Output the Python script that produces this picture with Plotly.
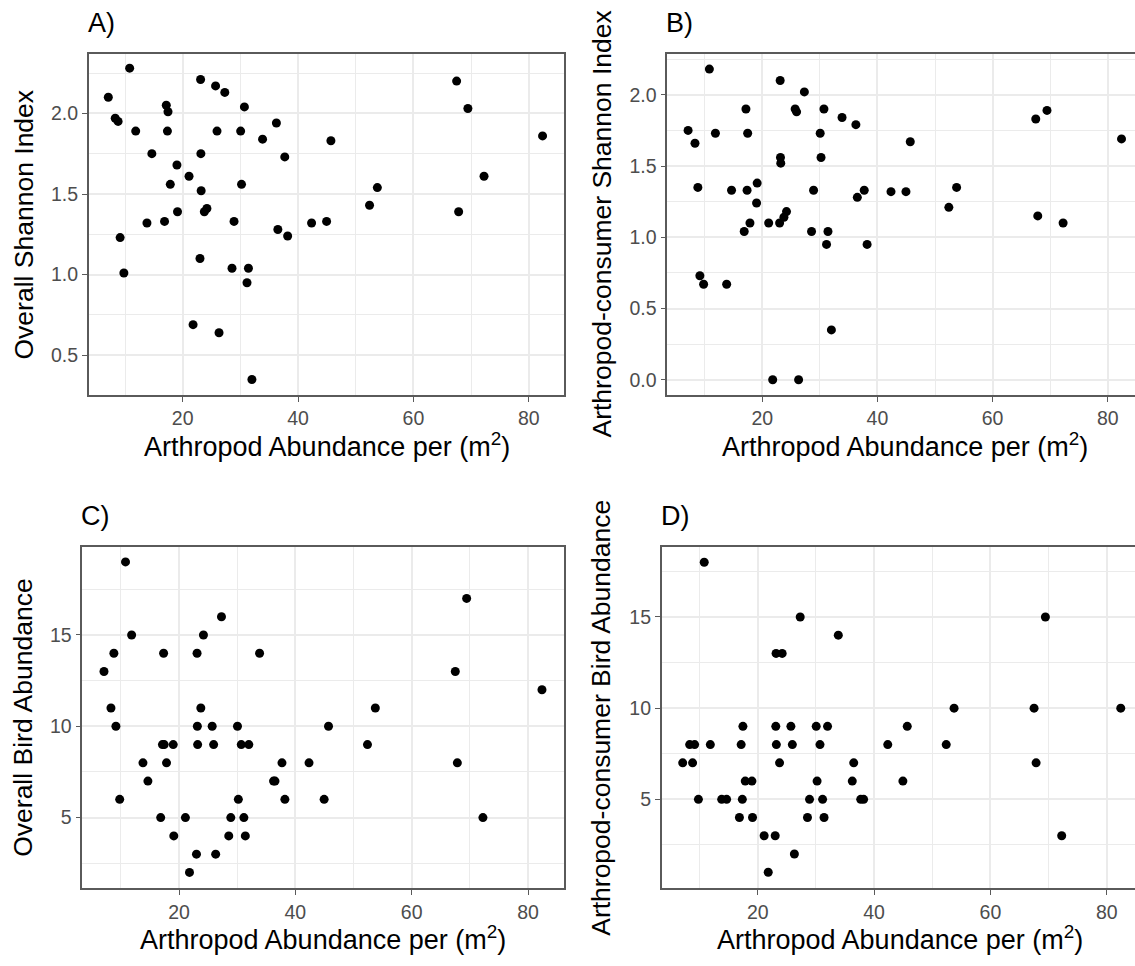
import plotly.graph_objects as go

W, H = 1135, 966

# Arthropod abundance per m2 at each site (shared by all four panels)
arthropod_abundance = [
    7.1, 8.3, 8.8, 9.15, 9.8, 10.8, 11.85,
    13.8, 14.65,
    16.85, 17.15, 17.35, 17.45, 17.85, 19.0, 19.1,
    21.1, 21.8,
    23.0, 23.1, 23.15, 23.2, 23.75, 24.2,
    25.7, 25.95, 26.3, 27.3,
    28.55, 28.9, 30.05, 30.2, 30.7, 31.15, 31.4, 32.0,
    33.85, 36.25, 36.5, 37.7, 38.2,
    42.35, 44.95, 45.7,
    52.4, 53.75,
    67.5, 67.85, 69.45,
    72.25, 82.4,
]

overall_shannon = [
    2.10, 1.97, 1.95, 1.23, 1.01, 2.28, 1.89,
    1.32, 1.75,
    1.33, 2.05, 1.89, 2.01, 1.56, 1.68, 1.39,
    1.61, 0.69,
    1.10, 2.21, 1.75, 1.52, 1.39, 1.41,
    2.17, 1.89, 0.64, 2.13,
    1.04, 1.33, 1.89, 1.56, 2.04, 0.95, 1.04, 0.35,
    1.84, 1.94, 1.28, 1.73, 1.24,
    1.32, 1.33, 1.83,
    1.43, 1.54,
    2.20, 1.39, 2.03,
    1.61, 1.86,
]

consumer_shannon = [
    1.75, 1.66, 1.35, 0.73, 0.67, 2.18, 1.73,
    0.67, 1.33,
    1.04, 1.90, 1.33, 1.73, 1.10, 1.24, 1.38,
    1.10, 0.00,
    1.10, 2.10, 1.56, 1.52, 1.14, 1.18,
    1.90, 1.88, 0.00, 2.02,
    1.04, 1.33, 1.73, 1.56, 1.90, 0.95, 1.04, 0.35,
    1.84, 1.79, 1.28, 1.33, 0.95,
    1.32, 1.32, 1.67,
    1.21, 1.35,
    1.83, 1.15, 1.89,
    1.10, 1.69,
]

overall_birds = [
    13, 11, 14, 10, 6, 19, 15,
    8, 7,
    5, 9, 14, 9, 8, 9, 4,
    5, 2,
    3, 14, 10, 9, 11, 15,
    10, 9, 3, 16,
    4, 5, 10, 6, 9, 5, 4, 9,
    14, 7, 7, 8, 6,
    8, 6, 10,
    9, 11,
    13, 8, 17,
    5, 12,
]

consumer_birds = [
    7, 8, 7, 8, 5, 18, 8,
    5, 5,
    4, 8, 5, 9, 6, 6, 4,
    3, 1,
    3, 9, 13, 8, 7, 13,
    9, 8, 2, 15,
    4, 5, 9, 6, 8, 5, 4, 9,
    14, 6, 7, 5, 5,
    8, 6, 9,
    8, 10,
    10, 7, 15,
    3, 10,
]

panel_tags = ["A)", "B)", "C)", "D)"]
y_titles = [
    "Overall Shannon Index",
    "Arthropod-consumer Shannon Index",
    "Overall Bird Abundance",
    "Arthropod-consumer Bird Abundance",
]
x_title = "Arthropod Abundance per (m<sup>2</sup>)"

FONT = "Liberation Sans, Arial, sans-serif"
GRID = "#EBEBEB"
FRAME = "#5A5A5A"
TICKTXT = "#4D4D4D"


def px_x(p):
    return p / W


def px_y(p):
    return 1 - p / H


# panel boxes in pixels: left, right, top, bottom
boxes = [
    (88.7, 564.3, 54.0, 395.0),
    (667.3, 1135.0, 54.0, 395.0),
    (82.3, 564.3, 547.3, 888.3),
    (661.7, 1135.0, 547.3, 888.3),
]
x_ranges = [[3.70, 86.17], [3.49, 84.74], [3.37, 86.24], [3.49, 84.85]]
y_ranges = [[0.254, 2.368], [-0.107, 2.286], [1.13, 19.80], [0.12, 18.82]]
y_major = [0.5, 0.5, 5, 5]
y_minor = [(0.25, 0.5), (0.25, 0.5), (2.5, 5), (2.5, 5)]
y_series = [overall_shannon, consumer_shannon, overall_birds, consumer_birds]
right_cut = [False, True, False, True]

fig = go.Figure()
layout = dict(
    width=W, height=H,
    margin=dict(l=0, r=0, t=0, b=0),
    paper_bgcolor="white", plot_bgcolor="white",
    showlegend=False,
    font=dict(family=FONT, color="black"),
)

annotations = []
for i in range(4):
    n = "" if i == 0 else str(i + 1)
    xa, ya = "x" + n, "y" + n
    l, r, t, b = boxes[i]
    fig.add_trace(go.Scatter(
        x=arthropod_abundance, y=y_series[i], mode="markers",
        marker=dict(color="black", size=9, line=dict(width=0)),
        xaxis=xa, yaxis=ya, cliponaxis=False,
    ))
    layout["xaxis" + n] = dict(
        domain=[px_x(l), px_x(r)], anchor=ya, range=x_ranges[i],
        tickmode="linear", tick0=0, dtick=20,
        showgrid=True, gridcolor=GRID, gridwidth=1.6,
        minor=dict(tick0=10, dtick=20, showgrid=True, gridcolor=GRID, gridwidth=0.9),
        showline=True, linecolor=FRAME, linewidth=1.6, mirror=True,
        ticks="outside", ticklen=5, tickwidth=1.4, tickcolor=FRAME,
        tickfont=dict(size=19.5, color=TICKTXT, family=FONT),
        zeroline=False,
    )
    layout["yaxis" + n] = dict(
        domain=[px_y(b), px_y(t)], anchor=xa, range=y_ranges[i],
        tickmode="linear", tick0=0, dtick=y_major[i],
        tickformat=".1f" if i < 2 else "d",
        showgrid=True, gridcolor=GRID, gridwidth=1.6,
        minor=dict(tick0=y_minor[i][0], dtick=y_minor[i][1], showgrid=True,
                   gridcolor=GRID, gridwidth=0.9),
        showline=True, linecolor=FRAME, linewidth=1.6,
        mirror=not right_cut[i],
        ticks="outside", ticklen=5, tickwidth=1.4, tickcolor=FRAME,
        tickfont=dict(size=19.5, color=TICKTXT, family=FONT),
        zeroline=False,
    )
    # panel tag
    annotations.append(dict(
        text=panel_tags[i], xref="paper", yref="paper",
        x=px_x(l - 3), y=px_y(t - 31), xanchor="left", yanchor="middle",
        showarrow=False, font=dict(size=27, color="black", family=FONT),
    ))
    # x-axis title, centred under the full panel width
    cx = (l + (l + 476 if right_cut[i] else r)) / 2
    annotations.append(dict(
        text=x_title, xref="paper", yref="paper",
        x=px_x(cx), y=px_y(b + 50), xanchor="center", yanchor="middle",
        showarrow=False, font=dict(size=27, color="black", family=FONT),
    ))
    # y-axis title
    ty = 23 if i % 2 == 0 else 601
    annotations.append(dict(
        text=y_titles[i], xref="paper", yref="paper", textangle=-90,
        x=px_x(ty), y=px_y((t + b) / 2), xanchor="center", yanchor="middle",
        showarrow=False, font=dict(size=26.5, color="black", family=FONT),
    ))

layout["annotations"] = annotations
fig.update_layout(**layout)
fig.write_html("out.html")
